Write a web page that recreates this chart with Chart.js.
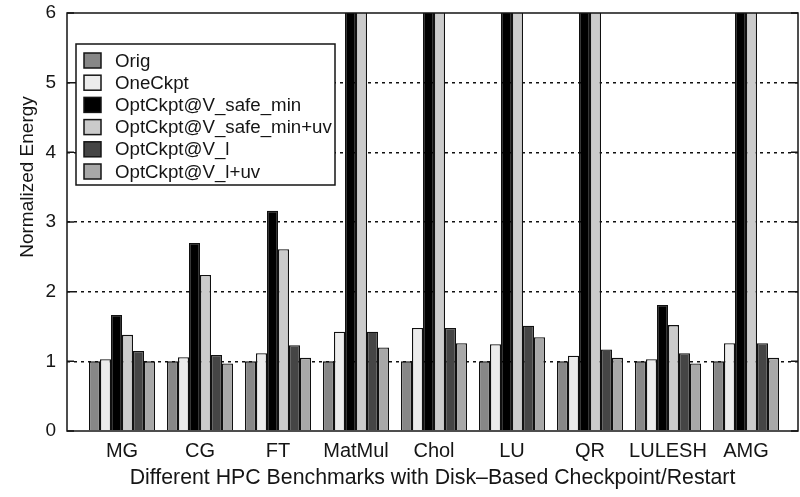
<!DOCTYPE html>
<html><head><meta charset="utf-8">
<script src="https://cdn.jsdelivr.net/npm/chart.js@4/dist/chart.umd.min.js"></script>
<style>html,body{margin:0;padding:0;background:#fff}</style>
</head><body>
<canvas id="c" width="800" height="497"></canvas>
<script>
const categories = ['MG','CG','FT','MatMul','Chol','LU','QR','LULESH','AMG'];
const seriesNames = ['Orig','OneCkpt','OptCkpt@V_safe_min','OptCkpt@V_safe_min+uv','OptCkpt@V_l','OptCkpt@V_l+uv'];
const seriesColors = ['#878787','#ececec','#000000','#cbcbcb','#454545','#a8a8a8'];
// values above 6 run off the top of the axis (clipped in the original)
const orig         = [1.00, 1.00, 1.00, 1.00, 1.00, 1.00, 1.00, 1.00, 1.00];
const oneCkpt      = [1.03, 1.06, 1.115, 1.425, 1.48, 1.245, 1.08, 1.03, 1.26];
const optSafeMin   = [1.665, 2.70, 3.16, 9, 9, 9, 9, 1.81, 9];
const optSafeMinUv = [1.38, 2.24, 2.61, 9, 9, 9, 9, 1.52, 9];
const optVl        = [1.15, 1.09, 1.23, 1.425, 1.48, 1.51, 1.17, 1.115, 1.26];
const optVlUv      = [1.00, 0.97, 1.05, 1.20, 1.26, 1.345, 1.05, 0.97, 1.05];
const yTicks = [0, 1, 2, 3, 4, 5, 6];
const xTitle = 'Different HPC Benchmarks with Disk\u2013Based Checkpoint/Restart';
const yTitle = 'Normalized Energy';

const FAM = '"Liberation Sans", Arial, Helvetica, sans-serif';
const INK = '#151515';
const allSeries = [orig, oneCkpt, optSafeMin, optSafeMinUv, optVl, optVlUv];

const decor = {
  id: 'decor',
  afterDatasetsDraw(chart) {
    const {ctx, chartArea: a, scales: {y}} = chart;
    ctx.save();
    ctx.strokeStyle = INK;
    ctx.lineWidth = 1.5;
    // mirrored inward tick marks
    yTicks.forEach(v => {
      const py = y.getPixelForValue(v);
      ctx.beginPath();
      ctx.moveTo(a.left, py); ctx.lineTo(a.left + 7, py);
      ctx.moveTo(a.right - 7, py); ctx.lineTo(a.right, py);
      ctx.stroke();
    });
    // frame
    ctx.strokeRect(a.left, a.top, a.right - a.left, a.bottom - a.top);
    // legend box
    const lx = a.left + 9, ly = a.top + 31, lw = 259, lh = 141;
    ctx.fillStyle = '#fff';
    ctx.fillRect(lx, ly, lw, lh);
    ctx.strokeRect(lx, ly, lw, lh);
    ctx.font = '18.7px ' + FAM;
    ctx.textBaseline = 'middle';
    ctx.textAlign = 'left';
    seriesNames.forEach((n, i) => {
      const cy = ly + 16.5 + i * 22.2;
      ctx.fillStyle = seriesColors[i];
      ctx.fillRect(lx + 8, cy - 7.5, 17, 15);
      ctx.strokeRect(lx + 8, cy - 7.5, 17, 15);
      ctx.fillStyle = INK;
      ctx.fillText(n, lx + 39, cy + 1);
    });
    // y axis title
    ctx.translate(28, 177);
    ctx.rotate(-Math.PI / 2);
    ctx.textAlign = 'center';
    ctx.font = '19px ' + FAM;
    ctx.fillStyle = INK;
    ctx.fillText(yTitle, 0, 0);
    ctx.restore();
  }
};

new Chart(document.getElementById('c'), {
  type: 'bar',
  data: {
    datasets: seriesNames.map((n, k) => ({
      label: n,
      data: allSeries[k].map((v, i) => ({x: i, y: v})),
      backgroundColor: seriesColors[k],
      borderColor: '#111',
      borderWidth: 1.3,
      barThickness: 11,
      inflateAmount: 0
    }))
  },
  options: {
    responsive: false,
    animation: false,
    devicePixelRatio: 1,
    layout: {padding: {top: 13, right: 2, left: 0, bottom: 0}},
    plugins: {legend: {display: false}, tooltip: {enabled: false}},
    scales: {
      x: {
        type: 'linear',
        min: -0.70513, max: 8.66667,
        offset: false,
        afterBuildTicks: s => { s.ticks = categories.map((c, i) => ({value: i})); },
        afterFit: s => { s.height = 66; s.paddingLeft = 0; s.paddingRight = 0; },
        ticks: {
          callback: v => categories[v],
          font: {size: 20, family: FAM},
          color: INK, padding: 0, maxRotation: 0, autoSkip: false
        },
        grid: {display: false},
        border: {display: false},
        title: {display: true, text: xTitle, font: {size: 21.3, family: FAM}, color: INK, padding: {top: 0, bottom: 6}}
      },
      y: {
        min: 0, max: 6,
        afterBuildTicks: s => { s.ticks = yTicks.map(v => ({value: v})); },
        afterFit: s => { s.width = 67; s.paddingTop = 0; s.paddingBottom = 0; },
        ticks: {font: {size: 19, family: FAM}, color: INK, padding: 11},
        grid: {
          drawTicks: false,
          lineWidth: 1.5,
          color: c => (c.tick && c.tick.value > 0 && c.tick.value < 6) ? '#111' : 'rgba(0,0,0,0)'
        },
        border: {display: false, dash: [3, 4]}
      }
    }
  },
  plugins: [decor]
});
</script>
</body></html>
